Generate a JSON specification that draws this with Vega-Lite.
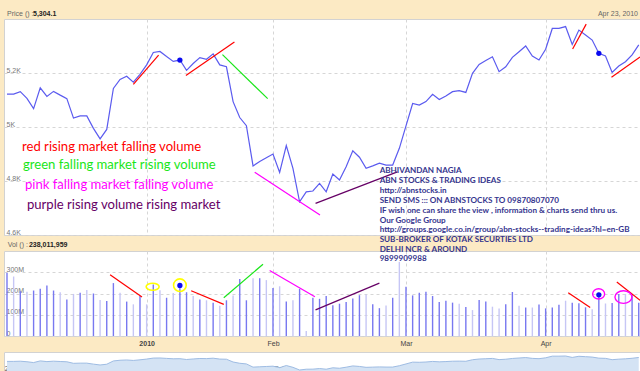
{
  "$schema": "https://vega.github.io/schema/vega-lite/v6.json",
  "background": "#FCEAC4",
  "padding": {"left": 3, "top": 9, "right": 0, "bottom": 0},
  "bounds": "flush",
  "spacing": 16,
  "config": {
    "view": {"fill": "white", "stroke": "#D2D2D2"},
    "font": "Liberation Sans",
    "axis": {"title": null, "domain": false, "ticks": false, "tickSize": 0, "gridColor": "#D6D6D6", "gridDash": [3, 3], "labelColor": "#777777", "labelFont": "Liberation Sans", "labelFontSize": 7, "labelFlush": false, "labelOverlap": false}
  },
  "datasets": {
    "d": [
      {"i":1,"p":5122,"v":298,"grp":"A"},{"i":2,"p":5122,"v":280,"grp":"B"},{"i":3,"p":5131,"v":211,"grp":"A"},{"i":4,"p":5106,"v":208,"grp":"B"},
      {"i":5,"p":5068,"v":214,"grp":"A"},{"i":6,"p":5145,"v":222,"grp":"A"},{"i":7,"p":5113,"v":238,"grp":"A"},{"i":8,"p":5132,"v":214,"grp":"A"},
      {"i":9,"p":5118,"v":206,"grp":"B"},{"i":10,"p":5105,"v":172,"grp":"A"},{"i":11,"p":5033,"v":198,"grp":"B"},{"i":12,"p":5041,"v":203,"grp":"A"},
      {"i":13,"p":5041,"v":217,"grp":"B"},{"i":14,"p":4995,"v":200,"grp":"A"},{"i":15,"p":4956,"v":169,"grp":"B"},{"i":16,"p":4991,"v":165,"grp":"A"},
      {"i":17,"p":5143,"v":249,"grp":"A"},{"i":18,"p":5176,"v":203,"grp":"B"},{"i":19,"p":5188,"v":162,"grp":"A"},{"i":20,"p":5166,"v":149,"grp":"B"},
      {"i":21,"p":5195,"v":188,"grp":"A"},{"i":22,"p":5230,"v":149,"grp":"B"},{"i":23,"p":5276,"v":242,"grp":"A"},{"i":24,"p":5280,"v":215,"grp":"B"},
      {"i":25,"p":5261,"v":180,"grp":"A"},{"i":26,"p":5243,"v":202,"grp":"B"},{"i":27,"p":5248,"v":238,"grp":"A"},{"i":28,"p":5210,"v":206,"grp":"A"},
      {"i":29,"p":5235,"v":188,"grp":"B"},{"i":30,"p":5257,"v":172,"grp":"A"},{"i":31,"p":5251,"v":168,"grp":"B"},{"i":32,"p":5271,"v":157,"grp":"A"},
      {"i":33,"p":5230,"v":142,"grp":"B"},{"i":34,"p":5223,"v":168,"grp":"A"},{"i":35,"p":5094,"v":191,"grp":"B"},{"i":36,"p":5035,"v":268,"grp":"A"},
      {"i":37,"p":5005,"v":168,"grp":"A"},{"i":38,"p":4856,"v":272,"grp":"B"},{"i":39,"p":4872,"v":272,"grp":"A"},{"i":40,"p":4886,"v":263,"grp":"B"},
      {"i":41,"p":4900,"v":226,"grp":"A"},{"i":42,"p":4832,"v":234,"grp":"B"},{"i":43,"p":4931,"v":162,"grp":"A"},{"i":44,"p":4847,"v":168,"grp":"B"},
      {"i":45,"p":4723,"v":222,"grp":"A"},{"i":46,"p":4760,"v":23,"grp":"B"},{"i":47,"p":4763,"v":180,"grp":"A"},{"i":48,"p":4791,"v":175,"grp":"A"},
      {"i":49,"p":4760,"v":188,"grp":"A"},{"i":50,"p":4826,"v":145,"grp":"A"},{"i":51,"p":4804,"v":152,"grp":"A"},{"i":52,"p":4853,"v":160,"grp":"A"},
      {"i":53,"p":4912,"v":177,"grp":"A"},{"i":54,"p":4888,"v":192,"grp":"A"},{"i":55,"p":4847,"v":195,"grp":"B"},{"i":56,"p":4856,"v":149,"grp":"A"},
      {"i":57,"p":4866,"v":131,"grp":"A"},{"i":58,"p":4859,"v":143,"grp":"B"},{"i":59,"p":4859,"v":180,"grp":"A"},{"i":60,"p":4921,"v":349,"grp":"B"},
      {"i":61,"p":5004,"v":232,"grp":"A"},{"i":62,"p":5087,"v":191,"grp":"A"},{"i":63,"p":5081,"v":203,"grp":"A"},{"i":64,"p":5094,"v":208,"grp":"A"},
      {"i":65,"p":5121,"v":188,"grp":"A"},{"i":66,"p":5102,"v":160,"grp":"A"},{"i":67,"p":5115,"v":166,"grp":"A"},{"i":68,"p":5131,"v":157,"grp":"A"},
      {"i":69,"p":5135,"v":152,"grp":"B"},{"i":70,"p":5128,"v":137,"grp":"A"},{"i":71,"p":5199,"v":122,"grp":"B"},{"i":72,"p":5232,"v":170,"grp":"A"},
      {"i":73,"p":5246,"v":162,"grp":"A"},{"i":74,"p":5260,"v":138,"grp":"B"},{"i":75,"p":5205,"v":130,"grp":"B"},{"i":76,"p":5223,"v":149,"grp":"A"},
      {"i":77,"p":5258,"v":207,"grp":"A"},{"i":78,"p":5279,"v":142,"grp":"B"},{"i":79,"p":5300,"v":134,"grp":"A"},{"i":80,"p":5263,"v":134,"grp":"B"},
      {"i":81,"p":5248,"v":148,"grp":"A"},{"i":82,"p":5288,"v":130,"grp":"A"},{"i":83,"p":5365,"v":134,"grp":"A"},{"i":84,"p":5365,"v":147,"grp":"A"},
      {"i":85,"p":5372,"v":166,"grp":"B"},{"i":86,"p":5306,"v":157,"grp":"A"},{"i":87,"p":5359,"v":154,"grp":"A"},{"i":88,"p":5341,"v":135,"grp":"A"},
      {"i":89,"p":5322,"v":126,"grp":"B"},{"i":90,"p":5273,"v":194,"grp":"A"},{"i":91,"p":5263,"v":153,"grp":"B"},{"i":92,"p":5202,"v":155,"grp":"A"},
      {"i":93,"p":5226,"v":198,"grp":"A"},{"i":94,"p":5242,"v":198,"grp":"B"},{"i":95,"p":5267,"v":195,"grp":"A"},{"i":96,"p":5304.1,"v":157,"grp":"A"}
    ],
    "annP": [
      {"seg":"a1","kind":"rmfv","i":20.0,"p":5158},{"seg":"a1","kind":"rmfv","i":23.8,"p":5266},
      {"seg":"a2","kind":"rmfv","i":27.9,"p":5191},{"seg":"a2","kind":"rmfv","i":35.2,"p":5315},
      {"seg":"a3","kind":"fmrv","i":33.4,"p":5268},{"seg":"a3","kind":"fmrv","i":40.2,"p":5105},
      {"seg":"a4","kind":"fmfv","i":38.25,"p":4832},{"seg":"a4","kind":"fmfv","i":48.07,"p":4674},
      {"seg":"a5","kind":"rvrm","i":47.4,"p":4717},{"seg":"a5","kind":"rvrm","i":59.7,"p":4834},
      {"seg":"a6","kind":"rmfv","i":86.06,"p":5289},{"seg":"a6","kind":"rmfv","i":88.1,"p":5381},
      {"seg":"a7","kind":"rmfv","i":91.9,"p":5184},{"seg":"a7","kind":"rmfv","i":96.2,"p":5259}
    ],
    "annV": [
      {"seg":"b1","kind":"rmfv","i":16.5,"v":288},{"seg":"b1","kind":"rmfv","i":21.3,"v":183},
      {"seg":"b2","kind":"rmfv","i":28.7,"v":213},{"seg":"b2","kind":"rmfv","i":33.6,"v":149},
      {"seg":"b3","kind":"fmrv","i":33.6,"v":180},{"seg":"b3","kind":"fmrv","i":39.5,"v":338},
      {"seg":"b4","kind":"fmfv","i":40.5,"v":308},{"seg":"b4","kind":"fmfv","i":47.3,"v":185},
      {"seg":"b5","kind":"rvrm","i":47.4,"v":123},{"seg":"b5","kind":"rvrm","i":57.0,"v":249},
      {"seg":"b6","kind":"rmfv","i":85.4,"v":203},{"seg":"b6","kind":"rmfv","i":88.7,"v":134},
      {"seg":"b7","kind":"rmfv","i":92.7,"v":254},{"seg":"b7","kind":"rmfv","i":96.2,"v":168}
    ],
    "legendText": [
      {"i":3.26,"p":4926,"kind":"rmfv","label":"red rising market falling volume"},
      {"i":3.4,"p":4858,"kind":"fmrv","label":"green falling market rising volume"},
      {"i":3.7,"p":4784,"kind":"fmfv","label":"pink falling market falling volume"},
      {"i":4.0,"p":4712,"kind":"rvrm","label":"purple rising volume rising market"}
    ],
    "blockA": [
      {"i":57.04,"p":4837,"label":"ABHIVANDAN NAGIA"},
      {"i":57.04,"p":4800,"label":"ABN STOCKS & TRADING IDEAS"},
      {"i":57.04,"p":4763,"label":"http://abnstocks.in"},
      {"i":57.04,"p":4726,"label":"SEND SMS ::: ON ABNSTOCKS TO 09870807070"},
      {"i":57.04,"p":4689,"label":"IF wish one can share the view , information & charts send thru us."},
      {"i":57.04,"p":4652,"label":"Our Google Group"},
      {"i":57.04,"p":4617,"label":"http://groups.google.co.in/group/abn-stocks--trading-ideas?hl=en-GB"}
    ],
    "blockB": [
      {"i":57.04,"v":450,"label":"SUB-BROKER OF KOTAK SECURTIES LTD"},
      {"i":57.04,"v":406,"label":"DELHI NCR & AROUND"},
      {"i":57.04,"v":361,"label":"9899909988"}
    ],
    "hdrP": [{"i":1.0,"p":5417,"label":"Price () :"}],
    "hdrPval": [{"i":4.91,"p":5417,"label":"5,304.1"}],
    "hdrDate": [{"i":95.89,"p":5417,"label":"Apr 23, 2010"}],
    "hdrV": [{"i":1.1,"v":429,"label":"Vol () :"}],
    "hdrVval": [{"i":4.3,"v":429,"label":"238,011,959"}],
    "hlYell": [{"i":22.9,"v":232}],
    "hlYcirc": [{"i":27.0,"v":239}],
    "hlMcirc": [{"i":89.97,"v":198}],
    "hlMell": [{"i":93.7,"v":183}]
  },
  "vconcat": [
    {
      "width": 637,
      "height": 216,
      "encoding": {
        "x": {"field": "i", "type": "quantitative", "scale": {"domain": [0.55, 96.34], "nice": false, "zero": false},
              "axis": {"values": [22, 41, 61, 82], "labels": false, "grid": true}},
        "y": {"field": "p", "type": "quantitative", "scale": {"domain": [4600, 5400], "nice": false, "zero": false},
              "axis": {"values": [4600, 4800, 5000, 5200], "grid": true, "labelAlign": "left", "labelBaseline": "bottom", "labelPadding": -2, "labelExpr": "datum.value / 1000 + 'K'"}}
      },
      "layer": [
        {"data": {"name": "d"}, "mark": {"type": "line", "color": "#5B5BEF", "strokeWidth": 1.2}},
        {"data": {"name": "annP"}, "mark": {"type": "line", "strokeWidth": 1.2},
         "encoding": {"detail": {"field": "seg"},
           "color": {"field": "kind", "type": "nominal", "legend": null, "scale": {"domain": ["rmfv", "fmrv", "fmfv", "rvrm", "A", "B"], "range": ["#FF0000", "#19E619", "#FF00FF", "#660066", "#7878F0", "#C6C6F5"]}}}},
        {"data": {"name": "d"}, "transform": [{"filter": "datum.i == 27 || datum.i == 90"}],
         "mark": {"type": "point", "filled": true, "color": "#0A0AF0", "size": 28, "opacity": 1}},
        {"data": {"name": "legendText"}, "mark": {"type": "text", "align": "left", "baseline": "middle", "font": "Lato", "fontSize": 13.1},
         "encoding": {"text": {"field": "label"},
           "color": {"field": "kind", "type": "nominal", "legend": null, "scale": {"domain": ["rmfv", "fmrv", "fmfv", "rvrm", "A", "B"], "range": ["#FF0000", "#19E619", "#FF00FF", "#660066", "#7878F0", "#C6C6F5"]}}}},
        {"data": {"name": "blockA"}, "mark": {"type": "text", "align": "left", "baseline": "middle", "font": "Lato", "fontSize": 8.1, "fontWeight": "bold", "color": "#35358E"},
         "encoding": {"text": {"field": "label"}}},
        {"data": {"name": "hdrP"}, "mark": {"type": "text", "align": "left", "baseline": "middle", "fontSize": 7, "color": "#666666"},
         "encoding": {"text": {"field": "label"}}},
        {"data": {"name": "hdrPval"}, "mark": {"type": "text", "align": "left", "baseline": "middle", "fontSize": 7, "fontWeight": "bold", "color": "#222222"},
         "encoding": {"text": {"field": "label"}}},
        {"data": {"name": "hdrDate"}, "mark": {"type": "text", "align": "right", "baseline": "middle", "fontSize": 7, "color": "#666666"},
         "encoding": {"text": {"field": "label"}}}
      ]
    },
    {
      "width": 637,
      "height": 85,
      "encoding": {
        "x": {"field": "i", "type": "quantitative", "scale": {"domain": [0.55, 96.34], "nice": false, "zero": false},
              "axis": {"values": [22, 41, 61, 82], "grid": true, "labelPadding": 3, "labelColor": "#444444",
                       "labelExpr": "datum.value == 22 ? '2010' : datum.value == 41 ? 'Feb' : datum.value == 61 ? 'Mar' : 'Apr'",
                       "labelFontWeight": {"condition": {"test": "datum.value == 22", "value": "bold"}, "value": "normal"}}},
        "y": {"field": "v", "type": "quantitative", "scale": {"domain": [0, 400], "nice": false},
              "axis": {"values": [0, 100, 200, 300], "grid": true, "labelAlign": "left", "labelBaseline": "bottom", "labelPadding": -2,
                       "labelExpr": "datum.value == 0 ? '0' : datum.value + 'M'"}}
      },
      "layer": [
        {"data": {"name": "d"}, "mark": {"type": "rule", "strokeWidth": 1.4},
         "encoding": {"y2": {"datum": 0},
           "color": {"field": "grp", "type": "nominal", "legend": null, "scale": {"domain": ["rmfv", "fmrv", "fmfv", "rvrm", "A", "B"], "range": ["#FF0000", "#19E619", "#FF00FF", "#660066", "#7878F0", "#C6C6F5"]}}}},
        {"data": {"name": "annV"}, "mark": {"type": "line", "strokeWidth": 1.2},
         "encoding": {"detail": {"field": "seg"},
           "color": {"field": "kind", "type": "nominal", "legend": null, "scale": {"domain": ["rmfv", "fmrv", "fmfv", "rvrm", "A", "B"], "range": ["#FF0000", "#19E619", "#FF00FF", "#660066", "#7878F0", "#C6C6F5"]}}}},
        {"data": {"name": "d"}, "transform": [{"filter": "datum.i == 27 || datum.i == 90"}],
         "mark": {"type": "point", "filled": true, "color": "#0A0AF0", "size": 28, "opacity": 1}},
        {"data": {"name": "hlYell"}, "mark": {"type": "point", "shape": "M-1,0A1,0.54,0,1,1,1,0A1,0.54,0,1,1,-1,0Z", "size": 169, "filled": false, "color": "#FFFF00", "strokeWidth": 1.6, "opacity": 1}},
        {"data": {"name": "hlYcirc"}, "mark": {"type": "point", "shape": "circle", "size": 160, "filled": false, "color": "#FFFF00", "strokeWidth": 1.6, "opacity": 1}},
        {"data": {"name": "hlMcirc"}, "mark": {"type": "point", "shape": "M-1,0A1,0.85,0,1,1,1,0A1,0.85,0,1,1,-1,0Z", "size": 144, "filled": false, "color": "#FF00FF", "strokeWidth": 1.4, "opacity": 1}},
        {"data": {"name": "hlMell"}, "mark": {"type": "point", "shape": "M-1,0A1,0.74,0,1,1,1,0A1,0.74,0,1,1,-1,0Z", "size": 289, "filled": false, "color": "#FF00FF", "strokeWidth": 1.4, "opacity": 1}},
        {"data": {"name": "blockB"}, "mark": {"type": "text", "align": "left", "baseline": "middle", "font": "Lato", "fontSize": 8.1, "fontWeight": "bold", "color": "#35358E"},
         "encoding": {"text": {"field": "label"}}},
        {"data": {"name": "hdrV"}, "mark": {"type": "text", "align": "left", "baseline": "middle", "fontSize": 7, "color": "#666666"},
         "encoding": {"text": {"field": "label"}}},
        {"data": {"name": "hdrVval"}, "mark": {"type": "text", "align": "left", "baseline": "middle", "fontSize": 7, "fontWeight": "bold", "color": "#222222"},
         "encoding": {"text": {"field": "label"}}}
      ]
    },
    {
      "width": 637,
      "height": 21,
      "data": {"name": "d"},
      "mark": {"type": "area", "color": "#D4E3F4", "opacity": 1, "line": {"color": "#9EBCE3", "strokeWidth": 1}},
      "encoding": {
        "x": {"field": "i", "type": "quantitative", "scale": {"domain": [0.55, 96.34], "nice": false, "zero": false},
              "axis": {"values": [0.6, 22.1, 41.1, 61.6, 82.8], "grid": false, "labelAlign": "left", "labelBaseline": "alphabetic", "labelPadding": -3, "labelColor": "#555555",
                       "labelExpr": "datum.value < 1 ? '2009' : datum.value < 23 ? '2010' : datum.value < 42 ? 'Feb' : datum.value < 62 ? 'Mar' : 'Apr'"}},
        "y": {"field": "p", "type": "quantitative", "scale": {"domain": [4584, 5558], "nice": false, "zero": false}, "axis": null}
      }
    }
  ]
}
